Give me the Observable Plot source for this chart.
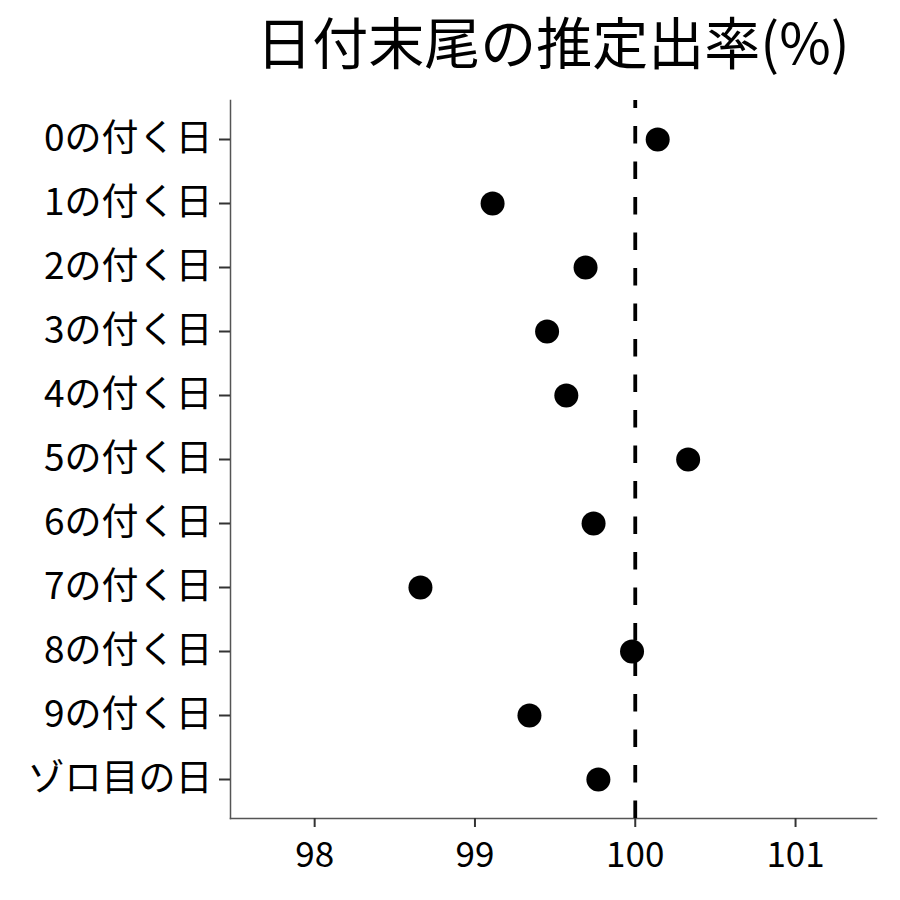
<!DOCTYPE html>
<html><head><meta charset="utf-8">
<script src="https://cdn.jsdelivr.net/npm/d3@7"></script>
<script src="https://cdn.jsdelivr.net/npm/@observablehq/plot@0.6"></script>
<style>
body{margin:0;background:#fff;}
svg{font-family:"Noto Sans CJK JP",sans-serif;display:block;}
#title{font-family:"Noto Sans CJK JP",sans-serif;font-size:56px;height:90px;line-height:80px;margin-left:230px;width:646px;text-align:center;color:#000;white-space:nowrap;overflow:visible;}
</style>
</head><body><div id="title"></div><div id="chart"></div>
<script>
const categories = ["0の付く日","1の付く日","2の付く日","3の付く日","4の付く日","5の付く日","6の付く日","7の付く日","8の付く日","9の付く日","ゾロ目の日"];
const values = [100.14, 99.11, 99.69, 99.45, 99.57, 100.33, 99.74, 98.66, 99.98, 99.34, 99.77];
const xTicks = [98, 99, 100, 101];
const refValue = [100];
const title = "日付末尾の推定出率(%)";

document.getElementById("title").textContent = title;
const data = categories.map((c, i) => ({cat: c, value: values[i]}));

const chart = Plot.plot({
  width: 900, height: 810,
  marginLeft: 230, marginRight: 24, marginTop: 10, marginBottom: 82,
  style: {fontFamily: '"Noto Sans CJK JP", sans-serif', background: "#fff"},
  x: {domain: [97.475, 101.505], ticks: xTicks, label: null},
  y: {type: "point", domain: categories, padding: 0.6, label: null},
  marks: [
    Plot.frame({anchor: "left", stroke: "#555", strokeWidth: 1.5}),
    Plot.frame({anchor: "bottom", stroke: "#555", strokeWidth: 1.5}),
    Plot.axisX({ticks: xTicks, tickFormat: d3.format("d"), tickSize: 9, tickPadding: 15, fontSize: 35, stroke: "#333", strokeWidth: 2, fill: "#000", label: null}),
    Plot.axisY({tickSize: 11, tickPadding: 7, fontSize: 37, stroke: "#333", strokeWidth: 2, fill: "#000", label: null}),
    Plot.ruleX(refValue, {stroke: "#000", strokeWidth: 3.8, strokeDasharray: "17.5,18", strokeDashoffset: 9.5}),
    Plot.dot(data, {x: "value", y: "cat", r: 12, fill: "#000", stroke: "none"})
  ]
});
document.getElementById("chart").appendChild(chart);
</script></body></html>
